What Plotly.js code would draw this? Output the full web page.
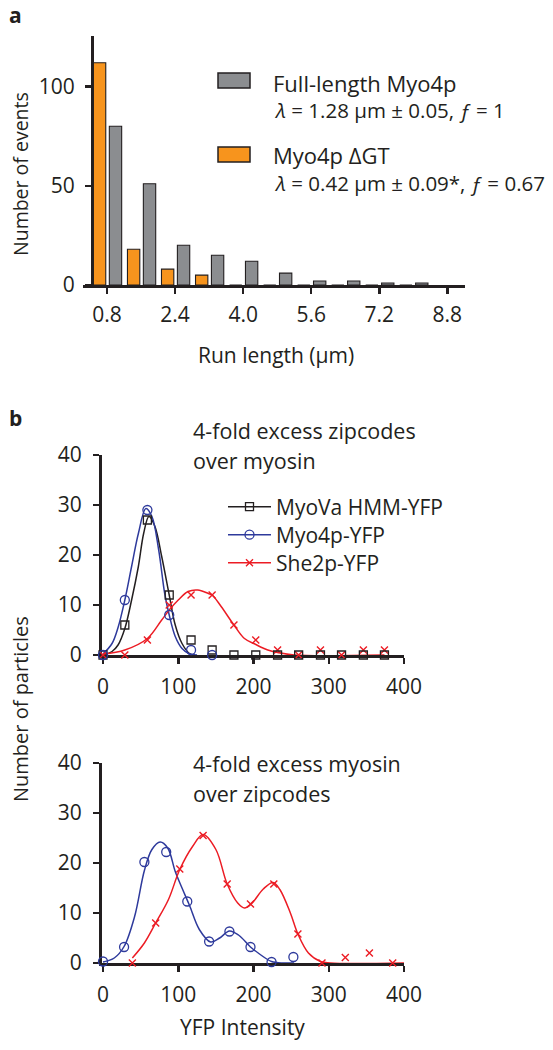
<!DOCTYPE html>
<html><head><meta charset="utf-8">
<script src="https://cdn.plot.ly/plotly-3.0.1.min.js"></script>
<style>html,body{margin:0;padding:0;background:#fff}#chart{width:553px;height:1050px}</style>
</head><body><div id="chart"></div>
<script>
// ---------- Panel a: run-length histogram ----------
const runBins = [0.8, 1.6, 2.4, 3.2, 4.0, 4.8, 5.6, 6.4, 7.2, 8.0];
const fullLengthCounts = [80, 51, 20, 15, 12, 6, 2, 2, 1, 1];
const deltaGTCounts = [112, 18, 8, 5, 0, 0, 0, 0, 0, 0];
const runTicks = [0.8, 2.4, 4.0, 5.6, 7.2, 8.8];
const runTickText = ['0.8', '2.4', '4.0', '5.6', '7.2', '8.8'];
const eventTicks = [0, 50, 100];

// ---------- Panel b (top): 4-fold excess zipcodes over myosin ----------
const topX = [0, 29, 59, 88, 117, 145, 174, 203, 232, 260, 289, 317, 346, 374];
const myoVaTop = [0, 6, 27, 12, 3, 1, 0, 0, 0, 0, 0, 0, 0, 0];
const myo4pTopX = [0, 29, 59, 88, 117, 145];
const myo4pTop = [0, 11, 29, 8, 1, 0];
const she2pTop = [0, 0, 3, 10, 12, 12, 6, 3, 1, 0, 1, 0, 1, 1];

const myoVaFitX = [0, 12, 20, 29, 38, 47, 54, 61, 69, 78, 88, 96, 105, 115, 122];
const myoVaFitY = [0, 0.7, 2, 5.3, 11, 17.7, 24.3, 27.7, 25.7, 19.7, 12, 6, 2.3, 0.3, 0];
const myo4pFitX = [0, 12, 20, 29, 38, 47, 57, 65, 74, 82, 88, 96, 105, 115, 125];
const myo4pFitY = [0.2, 2.3, 5.5, 11, 17.7, 24.3, 29.3, 27.7, 21, 12.3, 8, 3.7, 1.3, 0.2, 0];
const she2pFitX = [0, 29, 59, 78, 88, 100, 113, 126, 140, 145, 157, 174, 188, 203, 219, 232, 254, 374];
const she2pFitY = [0.2, 1, 3.3, 7, 9, 11, 12.7, 13, 12.3, 12, 9.7, 6, 3.3, 2.1, 1, 0.5, 0, 0];

// ---------- Panel b (bottom): 4-fold excess myosin over zipcodes ----------
const myo4pBotX = [0, 28, 55, 84, 112, 141, 168, 196, 224, 253];
const myo4pBot = [0.3, 3.2, 20.2, 22.2, 12.3, 4.3, 6.3, 3.2, 0.2, 1.2];
const she2pBotX = [39, 70, 102, 133, 165, 196, 227, 259, 291, 322, 354, 385];
const she2pBot = [0, 8, 18.8, 25.5, 15.8, 11.8, 15.8, 5.8, 0, 1.1, 2, 0];

const myo4pBotFitX = [0, 15, 28, 42, 55, 65, 76, 86, 96, 105, 115, 128, 143, 155, 168, 180, 196, 208, 224, 240, 254];
const myo4pBotFitY = [0.2, 1, 3.3, 9.3, 18.5, 22.7, 24.2, 23, 18.3, 15, 11.5, 6.7, 4.2, 5, 6.4, 5.6, 3.2, 1.8, 0.3, 0, 0];
const she2pBotFitX = [39, 55, 70, 87, 102, 119, 133, 150, 165, 179, 188, 197, 213, 226, 235, 249, 259, 273, 289, 302, 400];
const she2pBotFitY = [1, 4, 8, 12.7, 18.7, 23.3, 25.7, 22.7, 15.8, 12, 11, 11.8, 14.8, 16.1, 14.7, 10, 5.8, 2, 0.3, 0, 0];

const intensityTicks = [0, 100, 200, 300, 400];
const particleTicks = [0, 10, 20, 30, 40];
const seriesNames = ['MyoVa HMM-YFP', 'Myo4p-YFP', 'She2p-YFP'];

// ---------- styling ----------
const W = 553, H = 1050;
const px = v => v / W;
const py = v => 1 - v / H;
const FONT = "'Open Sans', 'Noto Sans', sans-serif";
const FS = 21;
const INK = '#231f20';
const GRAY = '#8b8d90';
const ORANGE = '#f7941d';
const BLUE = '#2e3a9c';
const RED = '#ec1c24';

const axisBase = {
  showline: true, linecolor: INK, linewidth: 2.5,
  ticks: 'outside', ticklen: 6, tickwidth: 2.5, tickcolor: INK,
  showgrid: false, zeroline: false, layer: 'below traces',
  tickfont: {family: FONT, size: FS, color: INK}, fixedrange: true
};

const sqMarker = {symbol: 'square-open', size: 8, color: INK, line: {color: INK, width: 1.3}};
const ciMarker = {symbol: 'circle-open', size: 9, color: BLUE, line: {color: BLUE, width: 1.3}};
const xMarker = {symbol: 'x-thin-open', size: 7, color: RED, line: {color: RED, width: 1.4}};

const traces = [
  {type: 'bar', x: runBins, y: deltaGTCounts, xaxis: 'x', yaxis: 'y',
   offset: -0.32, width: 0.29, marker: {color: ORANGE, line: {color: INK, width: 1.1}},
   showlegend: false, hoverinfo: 'skip'},
  {type: 'bar', x: runBins, y: fullLengthCounts, xaxis: 'x', yaxis: 'y',
   offset: 0.054, width: 0.29, marker: {color: GRAY, line: {color: INK, width: 1.1}},
   showlegend: false, hoverinfo: 'skip'},

  // top fits
  {type: 'scatter', mode: 'lines', x: myoVaFitX, y: myoVaFitY, xaxis: 'x2', yaxis: 'y2',
   line: {color: INK, width: 1.5, shape: 'spline', smoothing: 1}, showlegend: false, cliponaxis: false},
  {type: 'scatter', mode: 'lines', x: myo4pFitX, y: myo4pFitY, xaxis: 'x2', yaxis: 'y2',
   line: {color: BLUE, width: 1.5, shape: 'spline', smoothing: 1}, showlegend: false, cliponaxis: false},
  {type: 'scatter', mode: 'lines', x: she2pFitX, y: she2pFitY, xaxis: 'x2', yaxis: 'y2',
   line: {color: RED, width: 1.5, shape: 'spline', smoothing: 1}, showlegend: false, cliponaxis: false},
  // top points
  {type: 'scatter', mode: 'markers', x: topX, y: she2pTop, xaxis: 'x2', yaxis: 'y2',
   marker: xMarker, showlegend: false, cliponaxis: false},
  {type: 'scatter', mode: 'markers', x: topX, y: myoVaTop, xaxis: 'x2', yaxis: 'y2',
   marker: sqMarker, showlegend: false, cliponaxis: false},
  {type: 'scatter', mode: 'markers', x: myo4pTopX, y: myo4pTop, xaxis: 'x2', yaxis: 'y2',
   marker: ciMarker, showlegend: false, cliponaxis: false},

  // bottom fits
  {type: 'scatter', mode: 'lines', x: myo4pBotFitX, y: myo4pBotFitY, xaxis: 'x3', yaxis: 'y3',
   line: {color: BLUE, width: 1.5, shape: 'spline', smoothing: 1}, showlegend: false, cliponaxis: false},
  {type: 'scatter', mode: 'lines', x: she2pBotFitX, y: she2pBotFitY, xaxis: 'x3', yaxis: 'y3',
   line: {color: RED, width: 1.5, shape: 'spline', smoothing: 1}, showlegend: false, cliponaxis: false},
  // bottom points
  {type: 'scatter', mode: 'markers', x: she2pBotX, y: she2pBot, xaxis: 'x3', yaxis: 'y3',
   marker: xMarker, showlegend: false, cliponaxis: false},
  {type: 'scatter', mode: 'markers', x: myo4pBotX, y: myo4pBot, xaxis: 'x3', yaxis: 'y3',
   marker: ciMarker, showlegend: false, cliponaxis: false},

  // legend entries (panel b), one legend per row for exact spacing
  {type: 'scatter', mode: 'lines+markers', x: [null], y: [null], xaxis: 'x2', yaxis: 'y2', name: seriesNames[0],
   legend: 'legend', line: {color: INK, width: 1.5}, marker: sqMarker},
  {type: 'scatter', mode: 'lines+markers', x: [null], y: [null], xaxis: 'x2', yaxis: 'y2', name: seriesNames[1],
   legend: 'legend2', line: {color: BLUE, width: 1.5}, marker: ciMarker},
  {type: 'scatter', mode: 'lines+markers', x: [null], y: [null], xaxis: 'x2', yaxis: 'y2', name: seriesNames[2],
   legend: 'legend3', line: {color: RED, width: 1.5}, marker: xMarker}
];

function ann(text, x, y, opts) {
  return Object.assign({text: text, x: px(x), y: py(y), xref: 'paper', yref: 'paper',
    showarrow: false, xanchor: 'left', yanchor: 'middle',
    font: {family: FONT, size: FS, color: INK}}, opts || {});
}
const f = s => ({family: FONT, size: s, color: INK});

const annotations = [
  ann('<b>a</b>', 7, 15),
  ann('<b>b</b>', 7, 418),
  ann('Number of events', 20, 174, {xanchor: 'center', textangle: -90, font: f(19.5)}),
  ann('Run length (μm)', 276, 355, {xanchor: 'center'}),
  ann('Full-length Myo4p', 271, 83, {font: f(22)}),
  ann('<i>λ</i> = 1.28 μm ± 0.05, <i>ƒ</i> = 1', 272, 110, {font: f(20.5)}),
  ann('Myo4p ΔGT', 271, 155, {font: f(22)}),
  ann('<i>λ</i> = 0.42 μm ± 0.09*, <i>ƒ</i> = 0.67', 272, 183, {font: f(20.5)}),
  ann('4-fold excess zipcodes', 191, 430, {font: f(21.5)}),
  ann('over myosin', 191, 460, {font: f(21.5)}),
  ann('4-fold excess myosin', 191, 763, {font: f(21.5)}),
  ann('over zipcodes', 191, 793, {font: f(21.5)}),
  ann('Number of particles', 20, 709, {xanchor: 'center', textangle: -90, font: f(20)}),
  ann('YFP Intensity', 242, 1027, {xanchor: 'center'})
];

const shapes = [
  {type: 'rect', xref: 'paper', yref: 'paper', x0: px(218), x1: px(250), y0: py(88), y1: py(73),
   fillcolor: GRAY, line: {color: INK, width: 1.5}},
  {type: 'rect', xref: 'paper', yref: 'paper', x0: px(218), x1: px(250), y0: py(162), y1: py(147),
   fillcolor: ORANGE, line: {color: INK, width: 1.5}}
];

const legendBase = {xanchor: 'left', yanchor: 'middle', bgcolor: 'rgba(0,0,0,0)', borderwidth: 0,
  itemwidth: 43, font: f(FS), tracegroupgap: 0};

const layout = {
  width: W, height: H, margin: {l: 0, r: 0, t: 0, b: 0},
  paper_bgcolor: '#ffffff', plot_bgcolor: 'rgba(0,0,0,0)',
  font: {family: FONT, size: FS, color: INK},
  barmode: 'overlay', showlegend: true,
  legend: Object.assign({}, legendBase, {x: px(223), y: py(507)}),
  legend2: Object.assign({}, legendBase, {x: px(223), y: py(535)}),
  legend3: Object.assign({}, legendBase, {x: px(223), y: py(563)}),
  xaxis: Object.assign({}, axisBase, {domain: [px(83), px(465)], range: [0.235, 9.215], anchor: 'y',
    tickvals: runTicks, ticktext: runTickText, ticklabelstandoff: 3}),
  yaxis: Object.assign({}, axisBase, {domain: [py(285), py(36)], range: [0, 125.5], anchor: 'free',
    position: px(92), tickvals: eventTicks, ticklabelstandoff: 6}),
  xaxis2: Object.assign({}, axisBase, {domain: [px(101.5), px(404)], range: [-2, 400], anchor: 'y2',
    tickvals: intensityTicks, ticklabelstandoff: 5}),
  yaxis2: Object.assign({}, axisBase, {domain: [py(655), py(455)], range: [0, 40], anchor: 'x2',
    tickvals: particleTicks, ticklabelstandoff: 7}),
  xaxis3: Object.assign({}, axisBase, {domain: [px(101.5), px(404)], range: [-2, 400], anchor: 'y3',
    tickvals: intensityTicks, ticklabelstandoff: 5}),
  yaxis3: Object.assign({}, axisBase, {domain: [py(963), py(763)], range: [0, 40], anchor: 'x3',
    tickvals: particleTicks, ticklabelstandoff: 7}),
  annotations: annotations,
  shapes: shapes
};

Plotly.newPlot('chart', traces, layout, {displayModeBar: false, staticPlot: true});
</script>
</body></html>
